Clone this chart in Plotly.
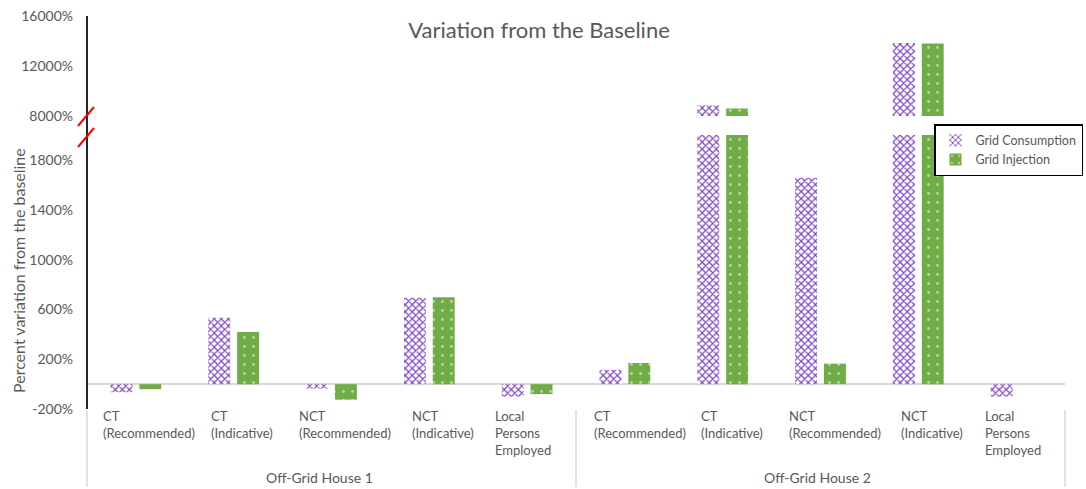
import plotly.graph_objects as go

# ---- data -------------------------------------------------------------
houses = ["Off-Grid House 1"] * 5 + ["Off-Grid House 2"] * 5
measures = ["CT (Recommended)", "CT (Indicative)", "NCT (Recommended)",
            "NCT (Indicative)", "Local Persons Employed"] * 2
measure_labels = ["CT<br>(Recommended)", "CT<br>(Indicative)", "NCT<br>(Recommended)",
                  "NCT<br>(Indicative)", "Local<br>Persons<br>Employed"] * 2
house_names = ["Off-Grid House 1", "Off-Grid House 2"]

grid_consumption = [-65, 535, -35, 695, -100, 115, 8850, 1660, 13850, -100]
grid_injection = [-40, 420, -125, 700, -80, 170, 8600, 165, 13800, 0]

lower_ticks = [-200, 200, 600, 1000, 1400, 1800]
upper_ticks = [8000, 12000, 16000]

# ---- layout constants ---------------------------------------------------
W, H = 1086, 489
ML, MR, MT, MB = 87, 21, 16, 80
PW, PH = W - ML - MR, H - MT - MB
FONT = "Lato"
GREY = "#595959"
PURPLE = "#7B3FC4"
GREEN = "#70AD47"


def py(px_y):
    """pixel row -> paper y"""
    return (H - MB - px_y) / PH


def px(px_x):
    """pixel column -> paper x"""
    return (px_x - ML) / PW


lower_dom = [0, py(135)]
upper_dom = [py(116), 1]

x = [houses, measures]

fig = go.Figure()
for yaxis, show in (("y", True), ("y2", False)):
    fig.add_trace(go.Bar(
        x=x, y=grid_consumption, name="Grid Consumption", yaxis=yaxis,
        showlegend=show, legendgroup="c",
        marker=dict(color="white", line=dict(width=0),
                    pattern=dict(shape="x", fgcolor=PURPLE, bgcolor="white",
                                 size=5, solidity=0.4, fillmode="replace")),
    ))
    fig.add_trace(go.Bar(
        x=x, y=grid_injection, name="Grid Injection", yaxis=yaxis,
        showlegend=show, legendgroup="i",
        marker=dict(color=GREEN, line=dict(width=0),
                    pattern=dict(shape=".", fgcolor="white", size=9,
                                 solidity=0.08, fillmode="overlay")),
    ))

shapes = [
    # vertical value axis, continuous through the break
    dict(type="line", xref="paper", yref="paper", x0=0, x1=0, y0=0, y1=1,
         line=dict(color="#262626", width=2)),
    # break marks
    dict(type="line", xref="paper", yref="paper", x0=px(78), x1=px(94),
         y0=py(126), y1=py(107), line=dict(color="red", width=2)),
    dict(type="line", xref="paper", yref="paper", x0=px(78), x1=px(94),
         y0=py(147), y1=py(128), line=dict(color="red", width=2)),
]
# group dividers under the category axis
for xd in (0, 0.5, 1):
    shapes.append(dict(type="line", xref="paper", yref="paper", x0=xd, x1=xd,
                       y0=py(410), y1=py(487),
                       line=dict(color="#D9D9D9", width=1.5)))

annotations = [
    dict(text="Percent variation from the baseline", textangle=-90,
         xref="paper", yref="paper", x=px(18), y=py(271),
         xanchor="center", yanchor="middle",
         showarrow=False, font=dict(family=FONT, size=16, color=GREY)),
]
label_shift = [-35, -25, -35, -19, -34, -33, -24, -34, -19, -33]
n = len(measure_labels)
for i, lab in enumerate(measure_labels):
    annotations.append(dict(
        text=lab, xref="paper", yref="paper", x=(i + 0.5) / n, y=py(406),
        xanchor="left", yanchor="top", xshift=label_shift[i], align="left",
        showarrow=False, font=dict(family=FONT, size=13, color=GREY)))
for j, hname in enumerate(house_names):
    annotations.append(dict(
        text=hname, xref="paper", yref="paper", x=(j + 0.5) / 2, y=py(477),
        xshift=-12 if j == 0 else -3,
        xanchor="center", yanchor="middle", showarrow=False,
        font=dict(family=FONT, size=14, color=GREY)))

fig.update_layout(
    width=W, height=H, autosize=False,
    margin=dict(l=ML, r=MR, t=MT, b=MB, pad=0, autoexpand=False),
    paper_bgcolor="white", plot_bgcolor="white",
    font=dict(family=FONT, color=GREY),
    title=dict(text="Variation from the Baseline", xref="paper", x=px(539),
               xanchor="center", yref="container", y=1 - 30 / H,
               yanchor="middle",
               font=dict(family=FONT, size=22, color=GREY)),
    barmode="group", bargap=0.41, bargroupgap=0.24,
    xaxis=dict(type="multicategory", showticklabels=False, showgrid=False,
               showline=False, ticks="", showdividers=False),
    yaxis=dict(domain=lower_dom, range=[-200, 2005], tickvals=lower_ticks,
               ticktext=[f"{v}%" for v in lower_ticks], showgrid=False,
               zeroline=True, zerolinecolor="#D9D9D9", zerolinewidth=1.5,
               showline=False, ticks="", ticklabelstandoff=13,
               tickfont=dict(family=FONT, size=14, color=GREY)),
    yaxis2=dict(domain=upper_dom, range=[8000, 16000], tickvals=upper_ticks,
                ticktext=[f"{v}%" for v in upper_ticks], showgrid=False,
                zeroline=False, showline=False, ticks="", anchor="x",
                ticklabelstandoff=13,
                tickfont=dict(family=FONT, size=14, color=GREY)),
    legend=dict(x=px(1083), xanchor="right", y=py(124), yanchor="top",
                bgcolor="white", bordercolor="black", borderwidth=1.5,
                font=dict(family=FONT, size=12.5, color=GREY),
                itemwidth=30, tracegroupgap=0),
    shapes=shapes,
    annotations=annotations,
)

fig.write_html("out.html")
